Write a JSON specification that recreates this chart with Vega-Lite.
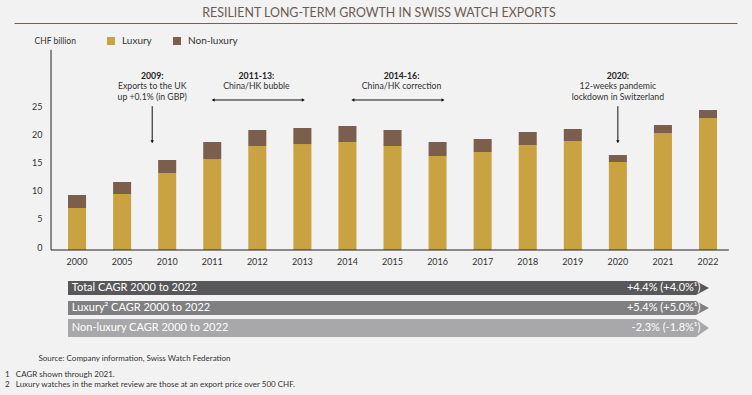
{
  "$schema": "https://vega.github.io/schema/vega-lite/v6.json",
  "background": "#f2f2f2",
  "padding": {"left": 5, "top": 6, "right": 15, "bottom": 9},
  "title": {"text": "RESILIENT LONG-TERM GROWTH IN SWISS WATCH EXPORTS", "font": "Lato", "fontSize": 12.4, "fontWeight": "normal", "color": "#6b5b52", "anchor": "middle", "offset": 3, "dx": 8},
  "config": {"view": {"stroke": null}, "font": "Lato", "axis": {"grid": false}, "axisY": {"labelOverlap": false}},
  "spacing": 28,
  "bounds": "flush",
  "resolve": {"scale": {"color": "independent"}, "legend": {"color": "independent"}},
  "vconcat": [
    {
      "width": 723,
      "height": 228,
      "resolve": {"scale": {"x": "independent"}, "axis": {"x": "independent"}},
      "layer": [
        {
          "layer": [
            {
              "data": {"values": [
                {"year": "2000", "type": "Luxury", "value": 7.45}, {"year": "2000", "type": "Non-luxury", "value": 2.3},
                {"year": "2005", "type": "Luxury", "value": 9.93}, {"year": "2005", "type": "Non-luxury", "value": 2.13},
                {"year": "2010", "type": "Luxury", "value": 13.65}, {"year": "2010", "type": "Non-luxury", "value": 2.31},
                {"year": "2011", "type": "Luxury", "value": 16.13}, {"year": "2011", "type": "Non-luxury", "value": 3.02},
                {"year": "2012", "type": "Luxury", "value": 18.44}, {"year": "2012", "type": "Non-luxury", "value": 2.84},
                {"year": "2013", "type": "Luxury", "value": 18.79}, {"year": "2013", "type": "Non-luxury", "value": 2.84},
                {"year": "2014", "type": "Luxury", "value": 19.15}, {"year": "2014", "type": "Non-luxury", "value": 2.84},
                {"year": "2015", "type": "Luxury", "value": 18.44}, {"year": "2015", "type": "Non-luxury", "value": 2.84},
                {"year": "2016", "type": "Luxury", "value": 16.67}, {"year": "2016", "type": "Non-luxury", "value": 2.48},
                {"year": "2017", "type": "Luxury", "value": 17.38}, {"year": "2017", "type": "Non-luxury", "value": 2.3},
                {"year": "2018", "type": "Luxury", "value": 18.62}, {"year": "2018", "type": "Non-luxury", "value": 2.3},
                {"year": "2019", "type": "Luxury", "value": 19.33}, {"year": "2019", "type": "Non-luxury", "value": 2.13},
                {"year": "2020", "type": "Luxury", "value": 15.6}, {"year": "2020", "type": "Non-luxury", "value": 1.24},
                {"year": "2021", "type": "Luxury", "value": 20.74}, {"year": "2021", "type": "Non-luxury", "value": 1.42},
                {"year": "2022", "type": "Luxury", "value": 23.4}, {"year": "2022", "type": "Non-luxury", "value": 1.42}
              ]},
              "mark": {"type": "bar"},
              "encoding": {
                "x": {"field": "year", "type": "nominal", "sort": null, "scale": {"paddingInner": 0.6, "paddingOuter": 0.821, "align": 0.73},
                      "axis": {"title": null, "orient": "bottom", "labelAngle": 0, "ticks": false, "domain": false, "labelFontSize": 9, "labelColor": "#333", "labelPadding": 7}},
                "y": {"field": "value", "type": "quantitative", "stack": "zero", "scale": {"domain": [0, 40.43], "nice": false},
                      "axis": {"values": [0, 5, 10, 15, 20, 25], "offset": -37, "labelOverlap": false, "domain": false, "ticks": false, "labelFontSize": 9, "labelColor": "#333", "labelPadding": 9, "labelBaseline": "alphabetic",
                               "title": "CHF billion", "titleAngle": 0, "titleX": -17, "titleY": 18, "titleAlign": "left", "titleBaseline": "middle", "titleFontSize": 8.5, "titleFontWeight": "normal", "titleColor": "#333"}},
                "color": {"field": "type", "type": "nominal", "scale": {"domain": ["Luxury", "Non-luxury"], "range": ["#c9a342", "#7b5e4c"]},
                          "legend": {"title": null, "orient": "none", "legendX": 92, "legendY": 14, "direction": "horizontal", "symbolType": "square", "symbolSize": 64, "symbolStrokeWidth": 0, "labelFontSize": 10, "labelColor": "#333", "columnPadding": 20, "labelOffset": 6}},
                "order": {"field": "type", "sort": "ascending"}
              }
            },
            {
              "data": {"values": [{}]},
              "mark": {"type": "rule", "color": "#222", "strokeWidth": 1},
              "encoding": {
                "x": {"datum": "2000", "type": "nominal", "bandPosition": -0.943},
                "y": {"datum": 0, "type": "quantitative"},
                "y2": {"datum": 35.5}
              }
            },
            {
              "data": {"values": [{}]},
              "mark": {"type": "rule", "color": "#222", "strokeWidth": 1},
              "encoding": {
                "x": {"datum": "2000", "type": "nominal", "bandPosition": -0.943},
                "x2": {"datum": "2022", "bandPosition": 1.66},
                "y": {"datum": 0, "type": "quantitative"}
              }
            },
            {
              "data": {"values": [{"year": "2010", "head": "2009:", "body": "Exports to the UK\nup +0.1% (in GBP)"}]},
              "encoding": {"x": {"field": "year", "type": "nominal", "bandPosition": -0.33}},
              "layer": [
                {"mark": {"type": "text", "fontWeight": "bold", "fontSize": 8.7, "color": "#222", "baseline": "middle"}, "encoding": {"y": {"datum": 30.9, "type": "quantitative"}, "text": {"field": "head"}}},
                {"mark": {"type": "text", "fontSize": 8.7, "color": "#333", "baseline": "top", "lineBreak": "\n", "lineHeight": 11}, "encoding": {"y": {"datum": 29.75, "type": "quantitative"}, "text": {"field": "body"}}},
                {"mark": {"type": "rule", "color": "#111"}, "encoding": {"y": {"datum": 25.5, "type": "quantitative"}, "y2": {"datum": 19.2}}},
                {"mark": {"type": "point", "shape": "triangle-down", "filled": true, "size": 12, "color": "#111", "opacity": 1}, "encoding": {"y": {"datum": 19.2, "type": "quantitative"}}}
              ]
            },
            {
              "data": {"values": [{"year": "2020", "head": "2020:", "body": "12-weeks pandemic\nlockdown in Switzerland"}]},
              "encoding": {"x": {"field": "year", "type": "nominal", "bandPosition": 0.5}},
              "layer": [
                {"mark": {"type": "text", "fontWeight": "bold", "fontSize": 8.7, "color": "#222", "baseline": "middle"}, "encoding": {"y": {"datum": 30.9, "type": "quantitative"}, "text": {"field": "head"}}},
                {"mark": {"type": "text", "fontSize": 8.7, "color": "#333", "baseline": "top", "lineBreak": "\n", "lineHeight": 11}, "encoding": {"y": {"datum": 29.75, "type": "quantitative"}, "text": {"field": "body"}}},
                {"mark": {"type": "rule", "color": "#111"}, "encoding": {"y": {"datum": 25.5, "type": "quantitative"}, "y2": {"datum": 19.2}}},
                {"mark": {"type": "point", "shape": "triangle-down", "filled": true, "size": 12, "color": "#111", "opacity": 1}, "encoding": {"y": {"datum": 19.2, "type": "quantitative"}}}
              ]
            },
            {
              "data": {"values": [{"mid": "2012", "from": "2011", "to": "2013", "head": "2011-13:", "body": "China/HK bubble"}]},
              "layer": [
                {"mark": {"type": "text", "fontWeight": "bold", "fontSize": 8.7, "color": "#222", "baseline": "middle"}, "encoding": {"x": {"field": "mid", "type": "nominal", "bandPosition": 0.45}, "y": {"datum": 30.9, "type": "quantitative"}, "text": {"field": "head"}}},
                {"mark": {"type": "text", "fontSize": 8.7, "color": "#333", "baseline": "top"}, "encoding": {"x": {"field": "mid", "type": "nominal", "bandPosition": 0.45}, "y": {"datum": 29.75, "type": "quantitative"}, "text": {"field": "body"}}},
                {"mark": {"type": "rule", "color": "#111"}, "encoding": {"x": {"field": "from", "type": "nominal", "bandPosition": 0.55}, "x2": {"field": "to", "bandPosition": 0.55}, "y": {"datum": 26.6, "type": "quantitative"}}},
                {"mark": {"type": "point", "shape": "triangle-left", "filled": true, "size": 12, "color": "#111", "opacity": 1}, "encoding": {"x": {"field": "from", "type": "nominal", "bandPosition": 0.55}, "y": {"datum": 26.6, "type": "quantitative"}}},
                {"mark": {"type": "point", "shape": "triangle-right", "filled": true, "size": 12, "color": "#111", "opacity": 1}, "encoding": {"x": {"field": "to", "type": "nominal", "bandPosition": 0.55}, "y": {"datum": 26.6, "type": "quantitative"}}}
              ]
            },
            {
              "data": {"values": [{"mid": "2015", "from": "2014", "to": "2016", "head": "2014-16:", "body": "China/HK correction"}]},
              "layer": [
                {"mark": {"type": "text", "fontWeight": "bold", "fontSize": 8.7, "color": "#222", "baseline": "middle"}, "encoding": {"x": {"field": "mid", "type": "nominal", "bandPosition": 1.0}, "y": {"datum": 30.9, "type": "quantitative"}, "text": {"field": "head"}}},
                {"mark": {"type": "text", "fontSize": 8.7, "color": "#333", "baseline": "top"}, "encoding": {"x": {"field": "mid", "type": "nominal", "bandPosition": 1.0}, "y": {"datum": 29.75, "type": "quantitative"}, "text": {"field": "body"}}},
                {"mark": {"type": "rule", "color": "#111"}, "encoding": {"x": {"field": "from", "type": "nominal", "bandPosition": 0.8}, "x2": {"field": "to", "bandPosition": 0.8}, "y": {"datum": 26.6, "type": "quantitative"}}},
                {"mark": {"type": "point", "shape": "triangle-left", "filled": true, "size": 12, "color": "#111", "opacity": 1}, "encoding": {"x": {"field": "from", "type": "nominal", "bandPosition": 0.8}, "y": {"datum": 26.6, "type": "quantitative"}}},
                {"mark": {"type": "point", "shape": "triangle-right", "filled": true, "size": 12, "color": "#111", "opacity": 1}, "encoding": {"x": {"field": "to", "type": "nominal", "bandPosition": 0.8}, "y": {"datum": 26.6, "type": "quantitative"}}}
              ]
            }
          ]
        },
        {
          "data": {"values": [{}]},
          "mark": {"type": "text", "text": ""},
          "encoding": {
            "x": {"datum": 0.5, "type": "quantitative", "scale": {"domain": [0, 1], "nice": false, "zero": false},
                  "axis": {"orient": "top", "offset": -1, "domain": true, "domainColor": "#7d5f4f", "domainWidth": 1, "ticks": false, "labels": false, "title": null, "grid": false}},
            "y": {"datum": 20, "type": "quantitative"}
          }
        }
      ]
    },
    {
      "width": 723,
      "height": 60,
      "title": {"text": ["1\u00a0\u00a0\u00a0CAGR shown through 2021.", "2\u00a0\u00a0\u00a0Luxury watches in the market review are those at an export price over 500 CHF."], "orient": "bottom", "anchor": "start", "frame": "group", "dx": -9, "offset": 9, "font": "Lato", "fontSize": 8, "fontWeight": "normal", "color": "#333", "lineHeight": 9.5},
      "data": {"values": [
        {"row": "Total CAGR 2000 to 2022", "cagr": "+4.4% (+4.0%¹)"},
        {"row": "Luxury² CAGR 2000 to 2022", "cagr": "+5.4% (+5.0%¹)"},
        {"row": "Non-luxury CAGR 2000 to 2022", "cagr": "-2.3% (-1.8%¹)"}
      ]},
      "encoding": {
        "y": {"field": "row", "type": "nominal", "sort": null, "scale": {"paddingInner": 0, "paddingOuter": 0}, "axis": null},
        "color": {"field": "row", "type": "nominal", "sort": null, "scale": {"domain": ["Total CAGR 2000 to 2022", "Luxury² CAGR 2000 to 2022", "Non-luxury CAGR 2000 to 2022"], "range": ["#58585a", "#808082", "#a8a8aa"]}, "legend": null}
      },
      "layer": [
        {
          "transform": [{"filter": "datum.row !== 'Non-luxury CAGR 2000 to 2022'"}],
          "mark": {"type": "bar", "height": 14},
          "encoding": {
            "x": {"datum": 0, "type": "quantitative", "scale": {"domain": [-8.427, 104.4], "nice": false, "zero": false},
                  "axis": {"domain": false, "ticks": false, "labels": false, "title": "Source: Company information, Swiss Watch Federation", "titleX": 24, "titleY": 20, "titleAlign": "left", "titleAnchor": "start", "titleBaseline": "middle", "titleFontSize": 8, "titleFontWeight": "normal", "titleColor": "#333"}},
            "x2": {"datum": 98}
          }
        },
        {
          "transform": [{"filter": "datum.row === 'Non-luxury CAGR 2000 to 2022'"}],
          "mark": {"type": "bar", "height": 18},
          "encoding": {"x": {"datum": 0, "type": "quantitative"}, "x2": {"datum": 98}}
        },
        {
          "transform": [{"filter": "datum.row !== 'Non-luxury CAGR 2000 to 2022'"}],
          "mark": {"type": "point", "shape": "M0,-1L1.857,0L0,1Z", "size": 196, "filled": true, "opacity": 1, "strokeWidth": 0},
          "encoding": {"x": {"datum": 98, "type": "quantitative"}}
        },
        {
          "transform": [{"filter": "datum.row === 'Non-luxury CAGR 2000 to 2022'"}],
          "mark": {"type": "point", "shape": "M0,-1L1.444,0L0,1Z", "size": 324, "filled": true, "opacity": 1, "strokeWidth": 0},
          "encoding": {"x": {"datum": 98, "type": "quantitative"}}
        },
        {
          "mark": {"type": "text", "align": "left", "baseline": "middle", "fontSize": 11},
          "encoding": {"x": {"datum": 0.6, "type": "quantitative"}, "text": {"field": "row"}, "color": {"value": "#ffffff"}}
        },
        {
          "mark": {"type": "text", "align": "right", "baseline": "middle", "fontSize": 11},
          "encoding": {"x": {"datum": 98.7, "type": "quantitative"}, "text": {"field": "cagr"}, "color": {"value": "#ffffff"}}
        }
      ]
    }
  ]
}
